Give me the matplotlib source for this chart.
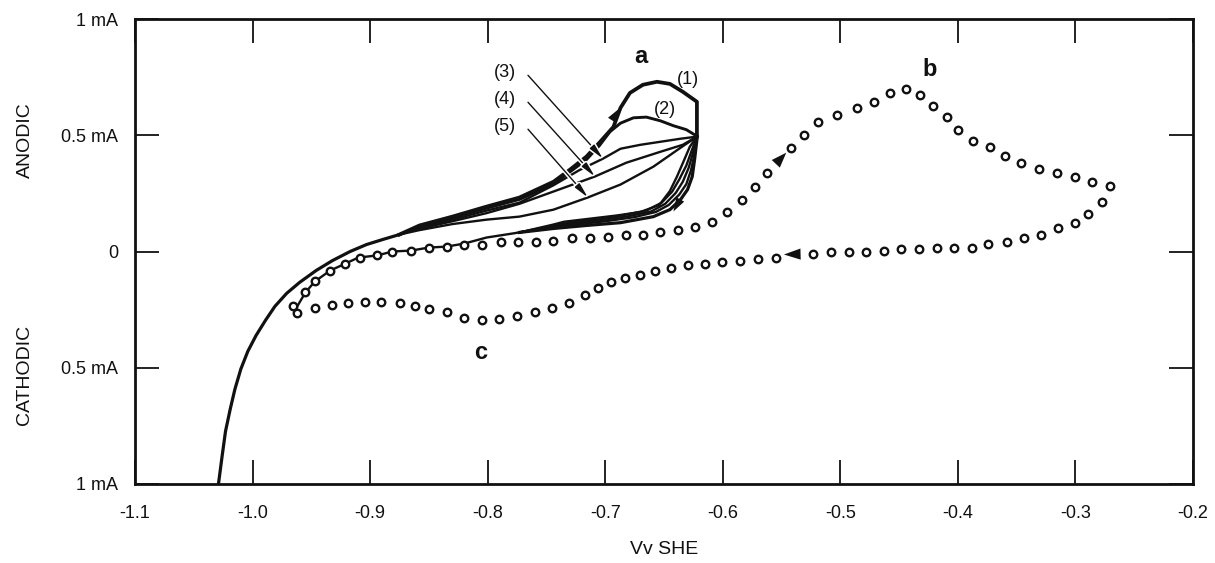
import matplotlib
matplotlib.use("Agg")
import matplotlib.pyplot as plt
from matplotlib import patheffects

plt.rcParams['font.family'] = ['Liberation Sans', 'DejaVu Sans']

# Potential (V vs SHE) and current (mA, anodic positive)
lead_v = [-1.029, -1.026, -1.023, -1.019, -1.015, -1.010, -1.004, -0.997, -0.989,
          -0.981, -0.971, -0.960, -0.946, -0.932, -0.917, -0.903, -0.889, -0.875]
lead_i = [-1.000, -0.884, -0.773, -0.678, -0.592, -0.506, -0.429, -0.361, -0.296,
          -0.236, -0.180, -0.133, -0.082, -0.039, 0.000, 0.030, 0.052, 0.073]

cycle1_up_v = [-0.875, -0.858, -0.830, -0.801, -0.773, -0.744, -0.730, -0.716, -0.705,
               -0.693, -0.687, -0.679, -0.668, -0.656, -0.645, -0.634, -0.622, -0.622]
cycle1_up_i = [0.073, 0.112, 0.150, 0.193, 0.232, 0.300, 0.352, 0.408, 0.468,
               0.536, 0.618, 0.682, 0.717, 0.730, 0.721, 0.687, 0.644, 0.494]
cycle2_up_v = [-0.875, -0.858, -0.830, -0.801, -0.773, -0.744, -0.716, -0.705, -0.696,
               -0.687, -0.676, -0.665, -0.653, -0.642, -0.631, -0.622]
cycle2_up_i = [0.073, 0.108, 0.145, 0.186, 0.224, 0.290, 0.395, 0.455, 0.515,
               0.552, 0.575, 0.578, 0.562, 0.541, 0.524, 0.496]
cycle3_up_v = [-0.875, -0.858, -0.830, -0.801, -0.773, -0.744, -0.722, -0.702, -0.687,
               -0.670, -0.653, -0.636, -0.622]
cycle3_up_i = [0.073, 0.103, 0.137, 0.176, 0.210, 0.285, 0.350, 0.399, 0.442,
               0.459, 0.472, 0.485, 0.494]
cycle4_up_v = [-0.875, -0.858, -0.830, -0.801, -0.773, -0.744, -0.709, -0.682, -0.653,
               -0.634, -0.622]
cycle4_up_i = [0.073, 0.098, 0.130, 0.165, 0.205, 0.258, 0.322, 0.382, 0.429,
               0.459, 0.494]
cycle5_up_v = [-0.875, -0.858, -0.830, -0.801, -0.773, -0.744, -0.715, -0.687, -0.659,
               -0.636, -0.622]
cycle5_up_i = [0.073, 0.092, 0.118, 0.137, 0.150, 0.180, 0.232, 0.288, 0.365,
               0.446, 0.494]

cycle1_down_v = [-0.622, -0.622, -0.624, -0.626, -0.630, -0.636, -0.645, -0.659, -0.687,
                 -0.716, -0.744]
cycle1_down_i = [0.494, 0.481, 0.395, 0.322, 0.266, 0.223, 0.180, 0.150, 0.124,
                 0.112, 0.099]
cycle2_down_v = [-0.622, -0.624, -0.627, -0.631, -0.637, -0.646, -0.657, -0.675, -0.700,
                 -0.725, -0.744]
cycle2_down_i = [0.494, 0.420, 0.350, 0.290, 0.245, 0.200, 0.170, 0.148, 0.130,
                 0.116, 0.104]
cycle3_down_v = [-0.622, -0.625, -0.629, -0.634, -0.640, -0.649, -0.661, -0.680, -0.705,
                 -0.728, -0.744]
cycle3_down_i = [0.494, 0.430, 0.360, 0.300, 0.252, 0.205, 0.172, 0.152, 0.134,
                 0.120, 0.108]
cycle4_down_v = [-0.622, -0.626, -0.631, -0.637, -0.643, -0.652, -0.665, -0.685, -0.710,
                 -0.730, -0.744]
cycle4_down_i = [0.494, 0.440, 0.370, 0.310, 0.258, 0.210, 0.176, 0.156, 0.138,
                 0.124, 0.112]
cycle5_down_v = [-0.622, -0.628, -0.634, -0.639, -0.645, -0.654, -0.670, -0.690, -0.715,
                 -0.735, -0.744]
cycle5_down_i = [0.494, 0.451, 0.380, 0.322, 0.260, 0.200, 0.170, 0.155, 0.140,
                 0.128, 0.116]

tail_v = [-0.773, -0.801, -0.820, -0.835, -0.850, -0.865, -0.881, -0.894, -0.910,
          -0.921, -0.934, -0.947, -0.955, -0.962]
tail_i = [0.082, 0.060, 0.034, 0.021, 0.017, 0.004, 0.000, -0.017, -0.026,
          -0.052, -0.082, -0.129, -0.176, -0.236]

# Second sweep (open circles): anodic out to -0.27 V, back through c
dots_v = [-0.966, -0.955, -0.947, -0.934, -0.921, -0.909, -0.894, -0.881, -0.865, -0.850,
          -0.835, -0.820, -0.805, -0.789, -0.774, -0.759, -0.744, -0.728, -0.713, -0.698,
          -0.682, -0.668, -0.653, -0.638, -0.624, -0.609, -0.596, -0.584, -0.573, -0.562,
          -0.542, -0.531, -0.519, -0.503, -0.486, -0.471, -0.458, -0.444, -0.432, -0.421,
          -0.409, -0.400, -0.387, -0.373, -0.360, -0.346, -0.331, -0.316, -0.300, -0.286,
          -0.271, -0.277, -0.289, -0.300, -0.315, -0.329, -0.344, -0.358, -0.374, -0.388,
          -0.403, -0.418, -0.433, -0.448, -0.463, -0.478, -0.493, -0.508, -0.523, -0.555,
          -0.570, -0.585, -0.601, -0.615, -0.630, -0.644, -0.658, -0.670, -0.683, -0.695,
          -0.706, -0.717, -0.731, -0.745, -0.760, -0.775, -0.790, -0.805, -0.820, -0.835,
          -0.850, -0.862, -0.875, -0.891, -0.904, -0.919, -0.932, -0.947, -0.962]
dots_i = [-0.236, -0.176, -0.129, -0.082, -0.052, -0.026, -0.017, 0.000, 0.004, 0.017,
          0.021, 0.026, 0.030, 0.039, 0.039, 0.043, 0.047, 0.056, 0.060, 0.064,
          0.069, 0.073, 0.082, 0.094, 0.107, 0.129, 0.172, 0.223, 0.279, 0.339,
          0.446, 0.502, 0.558, 0.588, 0.618, 0.644, 0.682, 0.700, 0.674, 0.627,
          0.579, 0.524, 0.476, 0.451, 0.412, 0.382, 0.356, 0.339, 0.322, 0.300,
          0.283, 0.215, 0.163, 0.124, 0.099, 0.069, 0.056, 0.039, 0.034, 0.017,
          0.013, 0.013, 0.009, 0.009, 0.004, 0.000, -0.004, -0.004, -0.009, -0.026,
          -0.034, -0.039, -0.047, -0.052, -0.060, -0.069, -0.082, -0.099, -0.116, -0.133,
          -0.155, -0.189, -0.223, -0.245, -0.262, -0.279, -0.292, -0.296, -0.288, -0.262,
          -0.249, -0.236, -0.223, -0.219, -0.219, -0.223, -0.232, -0.245, -0.266]

x_ticks = [-1.1, -1.0, -0.9, -0.8, -0.7, -0.6, -0.5, -0.4, -0.3, -0.2]
x_tick_labels = ['-1.1', '-1.0', '-0.9', '-0.8', '-0.7', '-0.6', '-0.5', '-0.4', '-0.3', '-0.2']
y_ticks = [-1.0, -0.5, 0.0, 0.5, 1.0]
y_tick_labels = ['1 mA', '0.5 mA', '0', '0.5 mA', '1 mA']

W, H = 1215, 563
fig = plt.figure(figsize=(W / 100, H / 100), dpi=100)
ax = fig.add_axes([135 / W, 1 - 484 / H, 1058 / W, 465 / H])
ax.set_xlim(-1.1, -0.2)
ax.set_ylim(-1.0, 1.0)

ink = '#111111'

# voltammetric cycles (1)-(5)
ax.plot(lead_v, lead_i, color=ink, lw=2.3, solid_joinstyle='round', solid_capstyle='round')
ups = [(cycle1_up_v, cycle1_up_i, 2.7), (cycle2_up_v, cycle2_up_i, 2.1),
       (cycle3_up_v, cycle3_up_i, 1.7), (cycle4_up_v, cycle4_up_i, 1.7),
       (cycle5_up_v, cycle5_up_i, 1.7)]
downs = [(cycle1_down_v, cycle1_down_i, 2.3), (cycle2_down_v, cycle2_down_i, 1.7),
         (cycle3_down_v, cycle3_down_i, 1.7), (cycle4_down_v, cycle4_down_i, 1.7),
         (cycle5_down_v, cycle5_down_i, 1.7)]
for v, i, lw in ups:
    ax.plot(v, i, color=ink, lw=lw, solid_joinstyle='round')
for v, i, lw in downs:
    ax.plot(v + tail_v[:1], i + tail_i[:1], color=ink, lw=lw, solid_joinstyle='round')
ax.plot(tail_v, tail_i, color=ink, lw=1.7, solid_joinstyle='round')

# open-circle sweep b / c
ax.plot(dots_v, dots_i, linestyle='none', marker='o', markersize=5.4,
        markerfacecolor='white', markeredgecolor=ink, markeredgewidth=1.7)


def head(tail, tip, length=1.0, width=0.35):
    ax.annotate('', xy=tip, xytext=tail,
                arrowprops=dict(arrowstyle=f'-|>,head_length={length},head_width={width}',
                                fc=ink, ec=ink, lw=0, shrinkA=0, shrinkB=0))


head((-0.697, 0.545), (-0.688, 0.615), 1.0, 0.32)
head((-0.636, 0.225), (-0.642, 0.172), 1.0, 0.32)
head((-0.562, 0.339), (-0.546, 0.425), 1.1, 0.4)
head((-0.525, -0.010), (-0.548, -0.013), 1.2, 0.4)

# labels with leader arrows for cycles (3)-(5); a white halo breaks the band they cross
halo = [patheffects.withStroke(linewidth=3.2, foreground='white')]
for lab, y_lab, tip in [('(3)', 0.768, (-0.7019, 0.399)),
                        ('(4)', 0.652, (-0.7087, 0.322)),
                        ('(5)', 0.536, (-0.7147, 0.232))]:
    ax.text(-0.7853, y_lab, lab, fontsize=13, ha='center', va='center', color=ink)
    ann = ax.annotate('', xy=tip, xytext=(-0.7657, y_lab - 0.01),
                      arrowprops=dict(arrowstyle='-|>,head_length=0.9,head_width=0.18',
                                      fc=ink, ec=ink, lw=1.0, shrinkA=0, shrinkB=0))
    ann.arrow_patch.set_path_effects(halo)

ax.text(-0.6296, 0.738, '(1)', fontsize=13, ha='center', va='center', color=ink)
ax.text(-0.649, 0.609, '(2)', fontsize=13, ha='center', va='center', color=ink)
ax.text(-0.670, 0.84, 'a', fontsize=17, fontweight='bold', ha='center', va='center', color=ink)
ax.text(-0.424, 0.781, 'b', fontsize=17, fontweight='bold', ha='center', va='center', color=ink)
ax.text(-0.806, -0.433, 'c', fontsize=17, fontweight='bold', ha='center', va='center', color=ink)

# axes styling
ax.set_xticks(x_ticks)
ax.set_xticklabels(x_tick_labels)
ax.set_yticks(y_ticks)
ax.set_yticklabels(y_tick_labels)
ax.tick_params(direction='in', length=17, width=1.3, top=True, right=True,
               labelsize=13, colors=ink)
ax.tick_params(axis='x', pad=15)
ax.tick_params(axis='y', pad=12)
for s in ax.spines.values():
    s.set_linewidth(2.0)
    s.set_color(ink)

fig.text(664 / W, 1 - 550 / H, 'Vv SHE', fontsize=14, ha='center', va='center', color=ink)
fig.text(25 / W, 1 - 140 / H, 'ANODIC', fontsize=14, rotation=90, ha='center', va='center', color=ink)
fig.text(25 / W, 1 - 375 / H, 'CATHODIC', fontsize=14, rotation=90, ha='center', va='center', color=ink)

fig.savefig('out.png', dpi=100, facecolor='white')
